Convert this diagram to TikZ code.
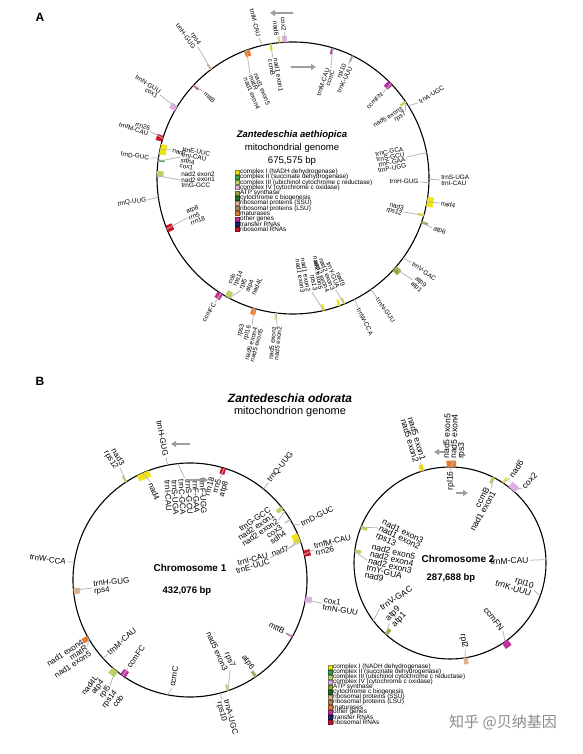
\documentclass[tikz,border=0pt]{standalone}
\usepackage{fontspec}
\setmainfont{Liberation Sans}
\newfontfamily\cjk{Noto Sans CJK SC}
\usetikzlibrary{calc,arrows.meta}
\definecolor{cI}{RGB}{240,228,20}
\definecolor{cII}{RGB}{60,165,80}
\definecolor{cIII}{RGB}{185,212,95}
\definecolor{cIV}{RGB}{228,175,228}
\definecolor{cATP}{RGB}{150,165,60}
\definecolor{cCYT}{RGB}{35,110,50}
\definecolor{cSSU}{RGB}{222,178,140}
\definecolor{cLSU}{RGB}{170,140,100}
\definecolor{cMAT}{RGB}{230,125,50}
\definecolor{cOTH}{RGB}{190,50,160}
\definecolor{cTRN}{RGB}{25,35,110}
\definecolor{cRRN}{RGB}{205,20,40}
\tikzset{
 lead/.style={draw=black!28, line width=0.8pt},
 lblA/.style={font=\fontsize{6.4}{5.5}\selectfont, inner sep=0.4pt},
 lblB/.style={font=\fontsize{8}{7}\selectfont, inner sep=0.5pt},
 lblC/.style={font=\fontsize{8.5}{7.3}\selectfont, inner sep=0.5pt},
 circ/.style={draw=black, line width=1.1pt},
 dirarrow/.style={draw=black!38, line width=1.8pt, -{Triangle[length=5pt,width=6pt]}},
 legsq/.style={minimum size=4pt, inner sep=0pt, line width=0.4pt},
 legtx/.style={font=\fontsize{6.4}{6.4}\selectfont, inner sep=0pt, anchor=west},
}
\newcounter{gl}
% #1 centre, #2 radius, #3 feature angle, #4 label angle, #5 dir (1 out,-1 in), #6 leader length, #7 text, #8 style
\newcommand\gene[8]{%
  \stepcounter{gl}\edef\glname{gl\arabic{gl}}%
  \pgfmathsetmacro\glrb{#2+#5*#6}%
  \pgfmathsetmacro\glrc{#2+#5*(#6+0.8)}%
  \pgfmathtruncatemacro\glright{cos(#4)>=0 ? 1 : 0}%
  \ifnum\glright=1 \pgfmathsetmacro\glrot{#4}\else\pgfmathsetmacro\glrot{#4+180}\fi
  \def\glanc{west}\def\glal{left}%
  \ifnum\glright=1 \ifnum#5<0 \def\glanc{east}\def\glal{right}\fi
  \else \ifnum#5>0 \def\glanc{east}\def\glal{right}\fi \fi
  \draw[lead] ($(#1)+(#3:#2pt)$) -- ($(#1)+(#4:\glrb pt)$);
  \node[#8,rotate=\glrot,anchor=\glanc,align=\glal] (\glname) at ($(#1)+(#4:\glrc pt)$) {#7};
}
% #1 centre, #2 radius, #3 a1, #4 a2, #5 dir, #6 colour
\newcommand\gblock[6]{%
  \pgfmathsetmacro\gbr{#2+#5*6.5}%
  \fill[#6] ($(#1)+(#3:#2pt)$) arc[start angle=#3,end angle=#4,radius=#2pt] -- ($(#1)+(#4:\gbr pt)$) arc[start angle=#4,end angle=#3,radius=\gbr pt] -- cycle;
}
\begin{document}
\begin{tikzpicture}[x=1pt,y=1pt]
\fill[white] (0,0) rectangle (582,754);
\useasboundingbox (0,0) rectangle (582,754);
\coordinate (A) at (293,576);
\coordinate (B1) at (190,174);
\coordinate (B2) at (450,191);
\node[font=\bfseries\fontsize{12}{12}\selectfont] (tA) at (40,737) {A};
\node[font=\bfseries\fontsize{12}{12}\selectfont] (tB) at (40,373) {B};
% ---------- panel A
\draw[circ] (A) circle[radius=136pt];
\gblock{A}{136}{92.5}{94.5}{1}{cIV}
\gblock{A}{136}{95.2}{95.8}{1}{cI}
\gblock{A}{136}{108.8}{111.2}{-1}{cMAT}
\gblock{A}{136}{99}{100}{-1}{cI}
\gblock{A}{136}{72.5}{73.5}{-1}{cOTH}
\gblock{A}{136}{63.6}{64.4}{-1}{cLSU}
\gblock{A}{136}{43}{45.5}{-1}{cOTH}
\gblock{A}{136}{33.5}{34.5}{-1}{cIII}
\gblock{A}{136}{-12}{-8}{1}{cI}
\gblock{A}{136}{-16.5}{-15.5}{-1}{cI}
\gblock{A}{136}{-19.5}{-18.5}{1}{cATP}
\gblock{A}{136}{-43}{-40.5}{1}{cATP}
\gblock{A}{136}{-77.5}{-76.5}{-1}{cI}
\gblock{A}{136}{-70.5}{-69.5}{-1}{cI}
\gblock{A}{136}{-68.3}{-67.5}{-1}{cIII}
\gblock{A}{136}{-120}{-117.5}{-1}{cIII}
\gblock{A}{136}{-123.5}{-121}{1}{cOTH}
\gblock{A}{136}{-107.5}{-105.5}{1}{cMAT}
\gblock{A}{136}{-97.5}{-96.5}{1}{cI}
\gblock{A}{136}{148}{150.5}{1}{cIV}
\gblock{A}{136}{136.6}{137.4}{-1}{cOTH}
\gblock{A}{136}{162}{164.5}{1}{cRRN}
\gblock{A}{136}{165.5}{170}{-1}{cI}
\gblock{A}{136}{172.2}{173}{-1}{cII}
\gblock{A}{136}{177}{179.5}{-1}{cIII}
\gblock{A}{136}{200.5}{203.5}{-1}{cRRN}
\gblock{A}{136}{126.6}{127.4}{1}{cSSU}
\gene{A}{136}{127}{126}{1}{26}{rps4\\trnH-GUG}{lblA}
\gene{A}{136}{137}{136}{-1}{12}{mttB}{lblA}
\gene{A}{136}{110}{112.5}{-1}{24}{nad1 exon5\\matR\\nad1 exon4}{lblA}
\gene{A}{136}{99.5}{99.5}{-1}{14}{nad1 exon1\\ccmB}{lblA}
\gene{A}{136}{93.5}{93.5}{1}{10}{cox2}{lblA}
\gene{A}{136}{95.5}{96.5}{1}{6}{nad6}{lblA}
\gene{A}{136}{103}{103.7}{1}{8}{trnM-CAU}{lblA}
\gene{A}{136}{73}{71}{-1}{20}{trnM-CAU\\ccmC}{lblA}
\gene{A}{136}{64}{64}{-1}{10}{rpl10\\trnK-UUU}{lblA}
\gene{A}{136}{44}{43.4}{-1}{12}{ccmFN}{lblA}
\gene{A}{136}{34}{31}{-1}{5}{nad5 exon3\\rps7}{lblA}
\gene{A}{136}{32}{31}{1}{10}{trnA-UGC}{lblA}
\gene{A}{136}{10.7}{10.5}{-1}{21}{trnC-GCA\\trnS-GCU\\trnF-GAA\\trnP-UGG}{lblA}
\gene{A}{136}{-2}{-1.8}{-1}{9}{trnH-GUG}{lblA}
\gene{A}{136}{-0.5}{-0.8}{1}{11}{trnS-UGA\\trnI-CAU}{lblA}
\gene{A}{136}{-10}{-9.7}{1}{13}{nad4}{lblA}
\gene{A}{136}{-16}{-17}{-1}{20}{nad3\\rps12}{lblA}
\gene{A}{136}{-19}{-19.8}{1}{12}{atp6}{lblA}
\gene{A}{136}{-36}{-35.5}{1}{10}{trnV-GAC}{lblA}
\gene{A}{136}{-41.5}{-40.4}{1}{21}{atp9\\atp1}{lblA}
\gene{A}{136}{-55}{-55}{1}{10}{trnN-GUU}{lblA}
\gene{A}{136}{-63}{-63.4}{1}{9}{trnW-CCA}{lblA}
\gene{A}{136}{-77}{-80.5}{-1}{20}{nad2 exon5\\rps13\\nad1 exon2\\nad1 exon3}{lblA}
\gene{A}{136}{-68}{-69}{-1}{16}{nad9\\trnY-GUA\\nad2 exon3\\nad2 exon4}{lblA}
\gene{A}{136}{-118}{-115}{-1}{12}{cob\\rps14\\rpl5\\atp4\\nad4L}{lblA}
\gene{A}{136}{-122}{-122}{1}{11}{ccmFC}{lblA}
\gene{A}{136}{-106.5}{-105.6}{1}{17}{rps3\\rpl16\\nad5 exon4\\nad5 exon5}{lblA}
\gene{A}{136}{-97}{-96.2}{1}{12}{nad5 exon1\\nad5 exon2}{lblA}
\gene{A}{136}{149}{148}{1}{21}{trnN-GUU\\cox1}{lblA}
\gene{A}{136}{163}{162}{1}{14}{rrn26\\trnfM-CAU}{lblA}
\gene{A}{136}{168}{167}{-1}{11}{nad7}{lblA}
\gene{A}{136}{171.5}{172}{1}{8}{trnD-GUC}{lblA}
\gene{A}{136}{173}{169.5}{-1}{21}{trnE-UUC\\trnI-CAU\\sdh4\\cox1}{lblA}
\gene{A}{136}{179}{181}{-1}{23}{nad2 exon2\\nad2 exon1\\trnG-GCC}{lblA}
\gene{A}{136}{188}{188.6}{1}{11}{trnQ-UUG}{lblA}
\gene{A}{136}{202}{200.7}{-1}{23}{atp8\\rrn5\\rrn18}{lblA}
\node[font=\bfseries\itshape\fontsize{9.5}{9.5}\selectfont] (titA) at (292,619) {Zantedeschia aethiopica};
\node[font=\fontsize{9.6}{9.6}\selectfont] (subA) at (292,606) {mitochondrial genome};
\node[font=\fontsize{9.6}{9.6}\selectfont] (bpA) at (292,593) {675,575 bp};
\coordinate (a1s) at (293,741); \coordinate (a1e) at (270,741);
\coordinate (a2s) at (291,687); \coordinate (a2e) at (316,687);
\draw[dirarrow] (a1s) -- (a1e);
\draw[dirarrow] (a2s) -- (a2e);
\foreach \c/\t [count=\i from 0] in {cI/complex I (NADH dehydrogenase),cII/complex II (succinate dehydrogenase),cIII/complex III (ubichinol cytochrome c reductase),cIV/complex IV (cytochrome c oxidase),cATP/ATP synthase,cCYT/cytochrome c biogenesis,cSSU/ribosomal proteins (SSU),cLSU/ribosomal proteins (LSU),cMAT/maturases,cOTH/other genes,cTRN/transfer RNAs,cRRN/ribosomal RNAs}{
  \node[legsq,fill=\c,draw=\c!60!black] (lqa\i) at (237,{582-\i*5.2}) {};
  \node[legtx] (lta\i) at (240,{582-\i*5.2}) {\t};
}
% ---------- panel B
\node[font=\bfseries\itshape\fontsize{12}{12}\selectfont] (titB) at (290,356) {Zantedeschia odorata};
\node[font=\fontsize{11}{11}\selectfont] (subB) at (290,342) {mitochondrion genome};
% chromosome 1
\draw[circ] (B1) circle[radius=117pt];
\gblock{B1}{117}{122.5}{123.5}{1}{cIII}
\gblock{B1}{117}{110.5}{117}{-1}{cI}
\gblock{B1}{117}{72}{74.5}{-1}{cRRN}
\gblock{B1}{117}{37}{39}{-1}{cIII}
\gblock{B1}{117}{30.6}{31.4}{-1}{cIV}
\gblock{B1}{117}{19}{23.5}{-1}{cI}
\gblock{B1}{117}{11.5}{14.5}{1}{cRRN}
\gblock{B1}{117}{184}{187}{-1}{cSSU}
\gblock{B1}{117}{208.5}{211}{1}{cMAT}
\gblock{B1}{117}{228.5}{232}{1}{cIII}
\gblock{B1}{117}{233.5}{236.5}{-1}{cOTH}
\gblock{B1}{117}{-11}{-8}{1}{cIV}
\gblock{B1}{117}{-29.4}{-28.6}{-1}{cOTH}
\gblock{B1}{117}{-56.5}{-55}{-1}{cATP}
\gblock{B1}{117}{-71.5}{-70.5}{-1}{cIII}
\gene{B1}{117}{123}{122}{1}{15}{nad3\\rps12}{lblB}
\gene{B1}{117}{114}{112}{-1}{11}{nad4}{lblB}
\gene{B1}{117}{101}{101}{1}{8}{trnH-GUG}{lblB}
\gene{B1}{117}{96}{93}{-1}{15}{trnF-UGG\\trnF-GAA\\trnS-GCU\\trnC-GCA\\trnS-UGA\\trnI-CAU}{lblB}
\gene{B1}{117}{73}{73.6}{-1}{11}{rrn18\\rrn5\\atp8}{lblB}
\gene{B1}{117}{51}{51.2}{1}{8}{trnQ-UUG}{lblB}
\gene{B1}{117}{36}{34}{-1}{10}{trnG-GCC\\nad2 exon1\\nad2 exon2\\cox3\\sdh4}{lblB}
\gene{B1}{117}{28.5}{26.6}{1}{6}{trnD-GUC}{lblB}
\gene{B1}{117}{21}{17.7}{-1}{12}{nad7}{lblB}
\gene{B1}{117}{19}{15.4}{-1}{34}{trnI-CAU\\trnE-UUC}{lblB}
\gene{B1}{117}{12.6}{13.7}{1}{10}{trnfM-CAU\\rrn26}{lblB}
\gene{B1}{117}{171}{171.7}{1}{7}{trnW-CCA}{lblB}
\gene{B1}{117}{185}{184.7}{-1}{19}{trnH-GUG\\rps4}{lblB}
\gene{B1}{117}{210}{213}{1}{5}{nad1 exon4\\matR\\nad1 exon5}{lblB}
\gene{B1}{117}{222}{222}{-1}{6}{trnM-CAU}{lblB}
\gene{B1}{117}{235}{234.8}{-1}{9}{ccmFC}{lblB}
\gene{B1}{117}{230.5}{232.7}{1}{15}{nad4L\\atp4\\rpl5\\rps14\\cob}{lblB}
\gene{B1}{117}{259}{260.5}{-1}{7.5}{ccmC}{lblB}
\gene{B1}{117}{-9.6}{-10}{1}{17}{cox1\\trnN-GUU}{lblB}
\gene{B1}{117}{-29}{-29}{-1}{8}{mttB}{lblB}
\gene{B1}{117}{-56}{-55}{-1}{7}{atp6}{lblB}
\gene{B1}{117}{-71}{-66}{-1}{18.5}{rps7\\nad5 exon3}{lblB}
\gene{B1}{117}{-75}{-75}{1}{7}{trnA-UGC\\rps10}{lblB}
\node[font=\bfseries\fontsize{10}{10}\selectfont] (ch1) at (190,186) {Chromosome 1};
\node[font=\bfseries\fontsize{9.5}{9.5}\selectfont] (bp1) at (187,163) {432,076 bp};
\coordinate (b1s) at (190,310); \coordinate (b1e) at (171,310);
\coordinate (b2s) at (188,274); \coordinate (b2e) at (208,274);
\draw[dirarrow] (b1s) -- (b1e);
\draw[dirarrow] (b2s) -- (b2e);
% chromosome 2
\draw[circ] (B2) circle[radius=96pt];
\gblock{B2}{96}{105.5}{108}{1}{cI}
\gblock{B2}{96}{86.5}{92}{1}{cMAT}
\gblock{B2}{96}{62}{64}{-1}{cIII}
\gblock{B2}{96}{56}{57}{1}{cI}
\gblock{B2}{96}{47.5}{52.5}{1}{cIV}
\gblock{B2}{96}{157}{159}{-1}{cIII}
\gblock{B2}{96}{172}{174}{-1}{cIII}
\gblock{B2}{96}{-57}{-53}{1}{cOTH}
\gblock{B2}{96}{-82}{-79.5}{1}{cSSU}
\gblock{B2}{96}{227}{229}{-1}{cATP}
\gene{B2}{96}{106.6}{106.5}{1}{9}{nad5 exon1\\nad5 exon2}{lblC}
\gene{B2}{96}{89.5}{87.8}{1}{7}{nad5 exon5\\nad5 exon4\\rps3}{lblC}
\gene{B2}{96}{90}{89.5}{-1}{3}{rpl16}{lblC}
\gene{B2}{96}{63}{61}{-1}{11}{ccmB\\nad1 exon1}{lblC}
\gene{B2}{96}{56.5}{54.8}{1}{8}{nad6}{lblC}
\gene{B2}{96}{50}{46}{1}{8}{cox2}{lblC}
\gene{B2}{96}{158}{154}{-1}{16}{nad1 exon3\\nad1 exon2\\rps13}{lblC}
\gene{B2}{96}{173}{178}{-1}{13}{nad2 exon5\\nad2 exon4\\nad2 exon3\\trnY-GUA\\nad9}{lblC,rotate=-12}
\gene{B2}{96}{2}{2}{-1}{16}{trnM-CAU}{lblC}
\gene{B2}{96}{-20}{-18}{-1}{8}{rpl10\\trnK-UUU}{lblC}
\gene{B2}{96}{-55}{-52}{-1}{10}{ccmFN}{lblC}
\gene{B2}{96}{-81}{-80}{-1}{8}{rpl2}{lblC}
\gene{B2}{96}{228}{225}{-1}{10}{atp9\\atp1}{lblC}
\gene{B2}{96}{217}{213}{-1}{12}{trnV-GAC}{lblC}
\node[font=\bfseries\fontsize{10}{10}\selectfont] (ch2) at (458,195) {Chromosome 2};
\node[font=\bfseries\fontsize{9.5}{9.5}\selectfont] (bp2) at (451,176) {287,688 bp};
\coordinate (c1s) at (447,302); \coordinate (c1e) at (434,302);
\coordinate (c2s) at (456,261); \coordinate (c2e) at (468,261);
\draw[dirarrow] (c1s) -- (c1e);
\draw[dirarrow] (c2s) -- (c2e);
\foreach \c/\t [count=\i from 0] in {cI/complex I (NADH dehydrogenase),cII/complex II (succinate dehydrogenase),cIII/complex III (ubichinol cytochrome c reductase),cIV/complex IV (cytochrome c oxidase),cATP/ATP synthase,cCYT/cytochrome c biogenesis,cSSU/ribosomal proteins (SSU),cLSU/ribosomal proteins (LSU),cMAT/maturases,cOTH/other genes,cTRN/transfer RNAs,cRRN/ribosomal RNAs}{
  \node[legsq,fill=\c,draw=\c!60!black] (lqb\i) at (330,{87-\i*5}) {};
  \node[legtx] (ltb\i) at (333,{87-\i*5}) {\t};
}
\node[font=\cjk\fontsize{15}{15}\selectfont, text=black!45] (wm) at (503,32) {知乎 @贝纳基因};
\end{tikzpicture}
\end{document}
